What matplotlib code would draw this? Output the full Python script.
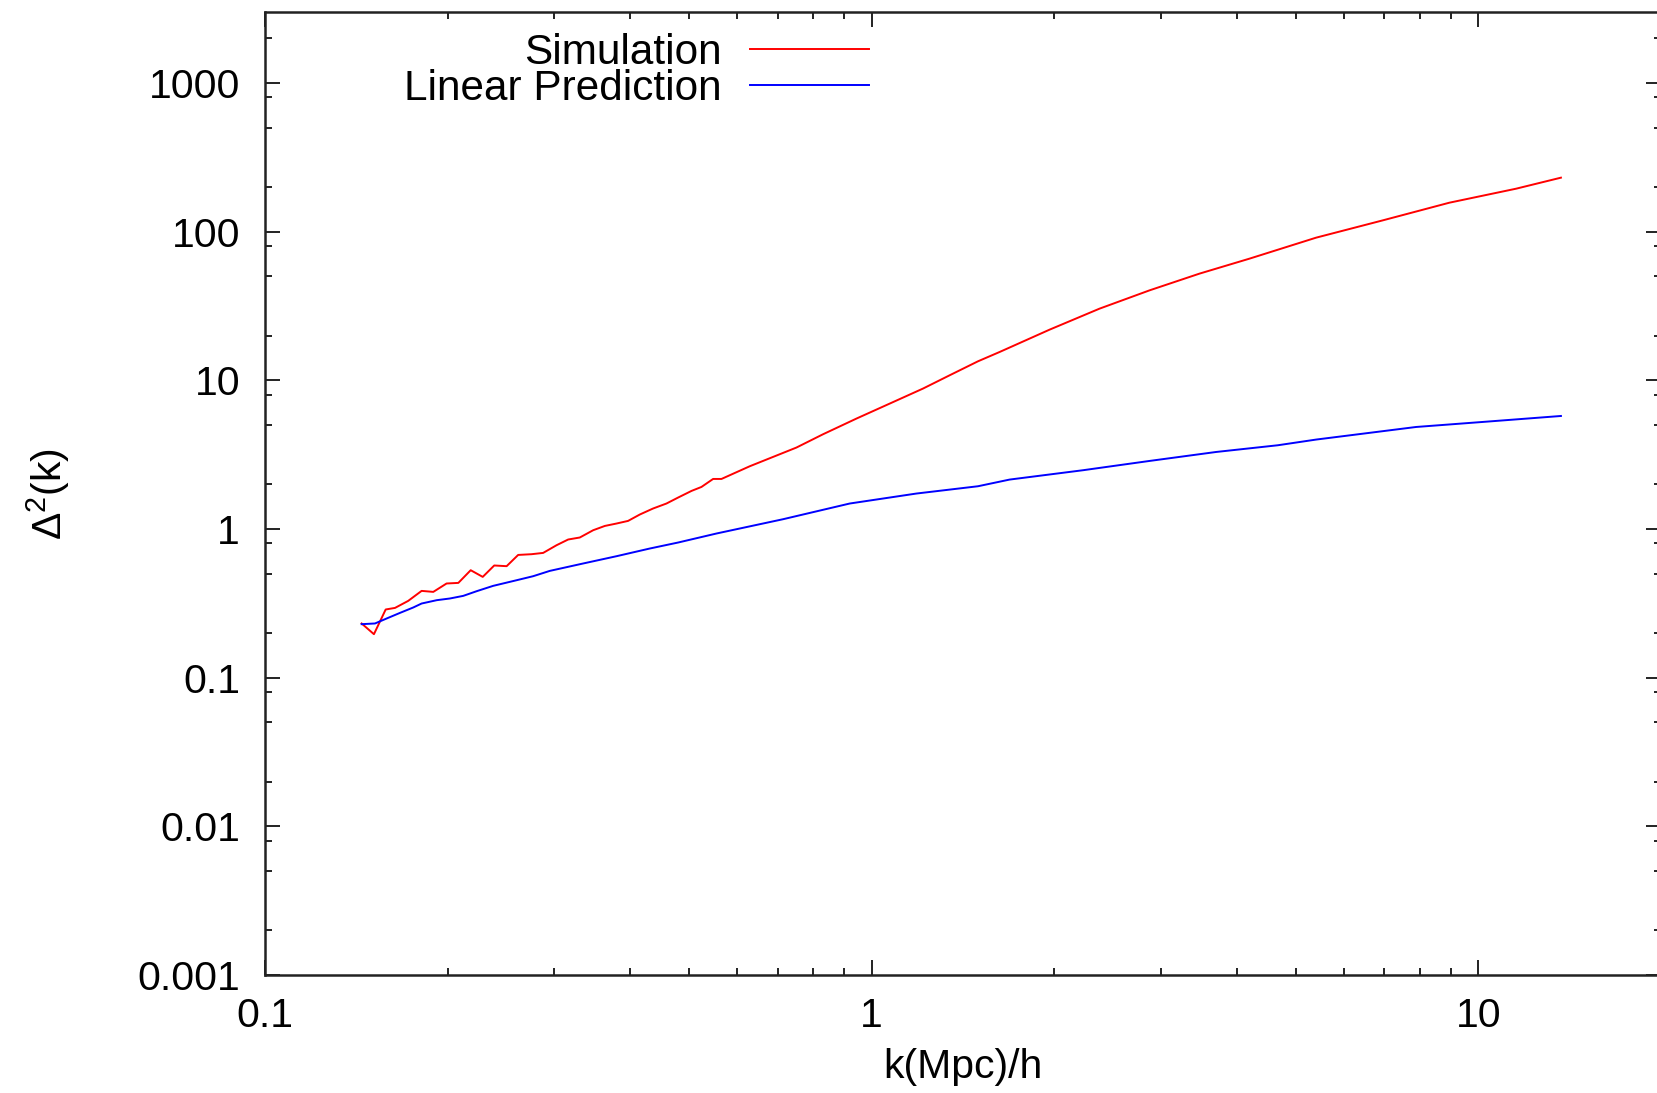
import matplotlib
matplotlib.use("Agg")
import matplotlib.pyplot as plt
from matplotlib.ticker import LogLocator, FixedLocator, FuncFormatter, NullFormatter

plt.rcParams['font.family'] = ['Liberation Sans', 'DejaVu Sans']
plt.rcParams['mathtext.fontset'] = 'custom'
plt.rcParams['mathtext.rm'] = 'Liberation Sans'
plt.rcParams['mathtext.it'] = 'Liberation Sans'

# simulation power spectrum
k_sim = [0.1443, 0.1512, 0.1581, 0.1638, 0.1722, 0.1812, 0.1894, 0.1992, 0.2083, 0.2183,
         0.2285, 0.2387, 0.2502, 0.2614, 0.2750, 0.2874, 0.3024, 0.3160, 0.3303, 0.3475,
         0.3632, 0.3797, 0.3967, 0.4148, 0.4362, 0.4589, 0.4797, 0.5047, 0.5241, 0.5478,
         0.5655, 0.6295, 0.7515, 0.8314, 0.9437, 1.071, 1.215, 1.344, 1.497, 1.625,
         1.965, 2.375, 2.871, 3.470, 4.195, 5.402, 6.955, 8.958, 11.54, 13.68]
d_sim = [0.2314, 0.196, 0.2874, 0.2945, 0.3283, 0.3833, 0.3774, 0.4298, 0.4338, 0.528,
         0.4761, 0.5681, 0.562, 0.669, 0.6765, 0.6902, 0.7776, 0.8494, 0.8762, 0.9808,
         1.048, 1.088, 1.133, 1.251, 1.373, 1.483, 1.627, 1.803, 1.917, 2.170,
         2.170, 2.641, 3.528, 4.335, 5.526, 6.973, 8.796, 10.80, 13.42, 15.50,
         21.92, 30.34, 40.27, 52.17, 65.79, 91.06, 119.0, 156.5, 194.4, 230.6]

# linear prediction
k_lin = [0.1443, 0.1518, 0.1587, 0.1669, 0.1755, 0.1812, 0.1919, 0.2017, 0.2122, 0.2233,
         0.2377, 0.2599, 0.2767, 0.2947, 0.3345, 0.3797, 0.4308, 0.4797, 0.5548, 0.7143,
         0.9200, 1.185, 1.497, 1.688, 2.229, 2.871, 3.698, 4.671, 5.402, 7.896,
         10.16, 13.68]
d_lin = [0.2289, 0.2314, 0.250, 0.2726, 0.2963, 0.3152, 0.3319, 0.3407, 0.3548, 0.3815,
         0.4143, 0.4522, 0.4812, 0.5224, 0.5859, 0.6559, 0.7388, 0.8107, 0.9320, 1.163,
         1.483, 1.731, 1.938, 2.149, 2.483, 2.868, 3.296, 3.656, 3.993, 4.853,
         5.245, 5.754]

x_ticks = [0.1, 1, 10]
y_ticks = [0.001, 0.01, 0.1, 1, 10, 100, 1000]

FS = 29.5
W, H = 1657, 1093
fig = plt.figure(figsize=(W / 100, H / 100), dpi=100)
ax = fig.add_axes([265 / W, 1 - 975 / H, (1661 - 265) / W, (975 - 12) / H])

ax.plot(k_sim, d_sim, color='#ff0000', lw=1.4, label='Simulation')
ax.plot(k_lin, d_lin, color='#0000ff', lw=1.4, label='Linear Prediction')

ax.set_xscale('log')
ax.set_yscale('log')
ax.set_xlim(0.1, 20)
ax.set_ylim(0.001, 3000)

ax.xaxis.set_major_locator(FixedLocator(x_ticks))
ax.yaxis.set_major_locator(FixedLocator(y_ticks))
ax.xaxis.set_minor_locator(LogLocator(base=10, subs=[2, 3, 4, 5, 6, 7, 8, 9]))
ax.yaxis.set_minor_locator(LogLocator(base=10, subs=[2, 5, 8]))
fmt = FuncFormatter(lambda v, p: '%g' % v)
ax.xaxis.set_major_formatter(fmt)
ax.yaxis.set_major_formatter(fmt)
ax.xaxis.set_minor_formatter(NullFormatter())
ax.yaxis.set_minor_formatter(NullFormatter())

ax.tick_params(which='both', direction='in', top=True, right=True, width=1.4, colors='#222222')
ax.tick_params(which='major', length=11)
ax.tick_params(which='minor', length=5)
ax.tick_params(axis='x', which='major', pad=16, labelsize=FS, labelcolor='black')
ax.tick_params(axis='y', which='major', pad=18, labelsize=FS, labelcolor='black')
for s in ax.spines.values():
    s.set_linewidth(1.8)
    s.set_color('#222222')

ax.set_xlabel('k(Mpc)/h', fontsize=FS)
ax.set_ylabel(r'$\Delta^{2}$(k)', fontsize=FS)
ax.xaxis.set_label_coords(0.5, -0.076)
ax.yaxis.set_label_coords(-0.138, 0.5)

ax.legend(loc='upper right', bbox_to_anchor=(0.4327, 0.9786), frameon=False,
          markerfirst=False, handlelength=2.82, handletextpad=0.66,
          labelspacing=-0.085, borderpad=0, borderaxespad=0, fontsize=30.4)

fig.savefig('out.png', dpi=100)
